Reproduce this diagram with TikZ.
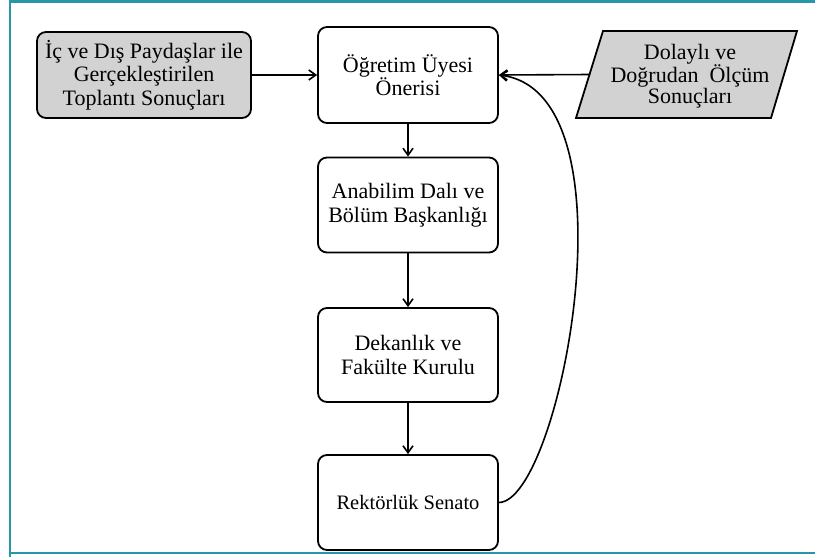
\documentclass[tikz,border=0pt]{standalone}
\usepackage{fontspec}
\setmainfont{Liberation Serif}
\usetikzlibrary{arrows.meta}
\definecolor{frameteal}{HTML}{2896AA}
\definecolor{boxgray}{HTML}{D2D2D2}
\tikzset{
  flowbox/.style={draw=black, line width=1.8pt, rounded corners=9pt, fill=white,
    minimum width=180pt, align=center, inner sep=0pt, font=\fontsize{22}{23.5}\selectfont},
  conn/.style={line width=1.6pt, -{Straight Barb[length=7pt,width=10pt,line width=1.6pt]}}
}
\begin{document}
\begin{tikzpicture}[x=1pt,y=-1pt]
\useasboundingbox (0,0) rectangle (815,557);
\fill[white] (0,0) rectangle (815,557);
% frame
\draw[frameteal, line width=2.5pt] (10,557) -- (10,1.5) -- (815,1.5);
\draw[frameteal, line width=2.5pt] (10,553) -- (815,553);
% nodes
\node[flowbox, fill=boxgray, minimum width=214pt, minimum height=86pt] (src) at (144,75)
  {İç ve Dış Paydaşlar ile\\Gerçekleştirilen\\Toplantı Sonuçları};
\node[flowbox, minimum height=96pt] (ogr) at (408,75) {Öğretim Üyesi\\Önerisi};
\node[flowbox, minimum height=95pt] (abd) at (408,205) {Anabilim Dalı ve\\Bölüm Başkanlığı};
\node[flowbox, minimum height=94pt] (dek) at (408,355) {Dekanlık ve\\Fakülte Kurulu};
\node[flowbox, minimum height=95pt, font=\fontsize{20.5}{23}\selectfont] (rek) at (408,502.5) {Rektörlük Senato};
% parallelogram
\draw[line width=1.8pt, fill=boxgray] (603,31) -- (797,31) -- (771,118) -- (576,118) -- cycle;
\node[align=center, font=\fontsize{22}{20.5}\selectfont, inner sep=0pt] (olc) at (690,76)
  {Dolaylı ve\\Doğrudan\ \ Ölçüm\\Sonuçları};
\coordinate (olcw) at (590,74.5);
% connectors
\draw[conn] (src.east) -- (ogr.west);
\draw[conn] (olcw) -- (ogr.east);
\draw[conn] (ogr.south) -- (abd.north);
\draw[conn] (abd.south) -- (dek.north);
\draw[conn] (dek.south) -- (rek.north);
\draw[conn] (rek.east) .. controls (560,502) and (640,92) .. (ogr.east);
\end{tikzpicture}
\end{document}
